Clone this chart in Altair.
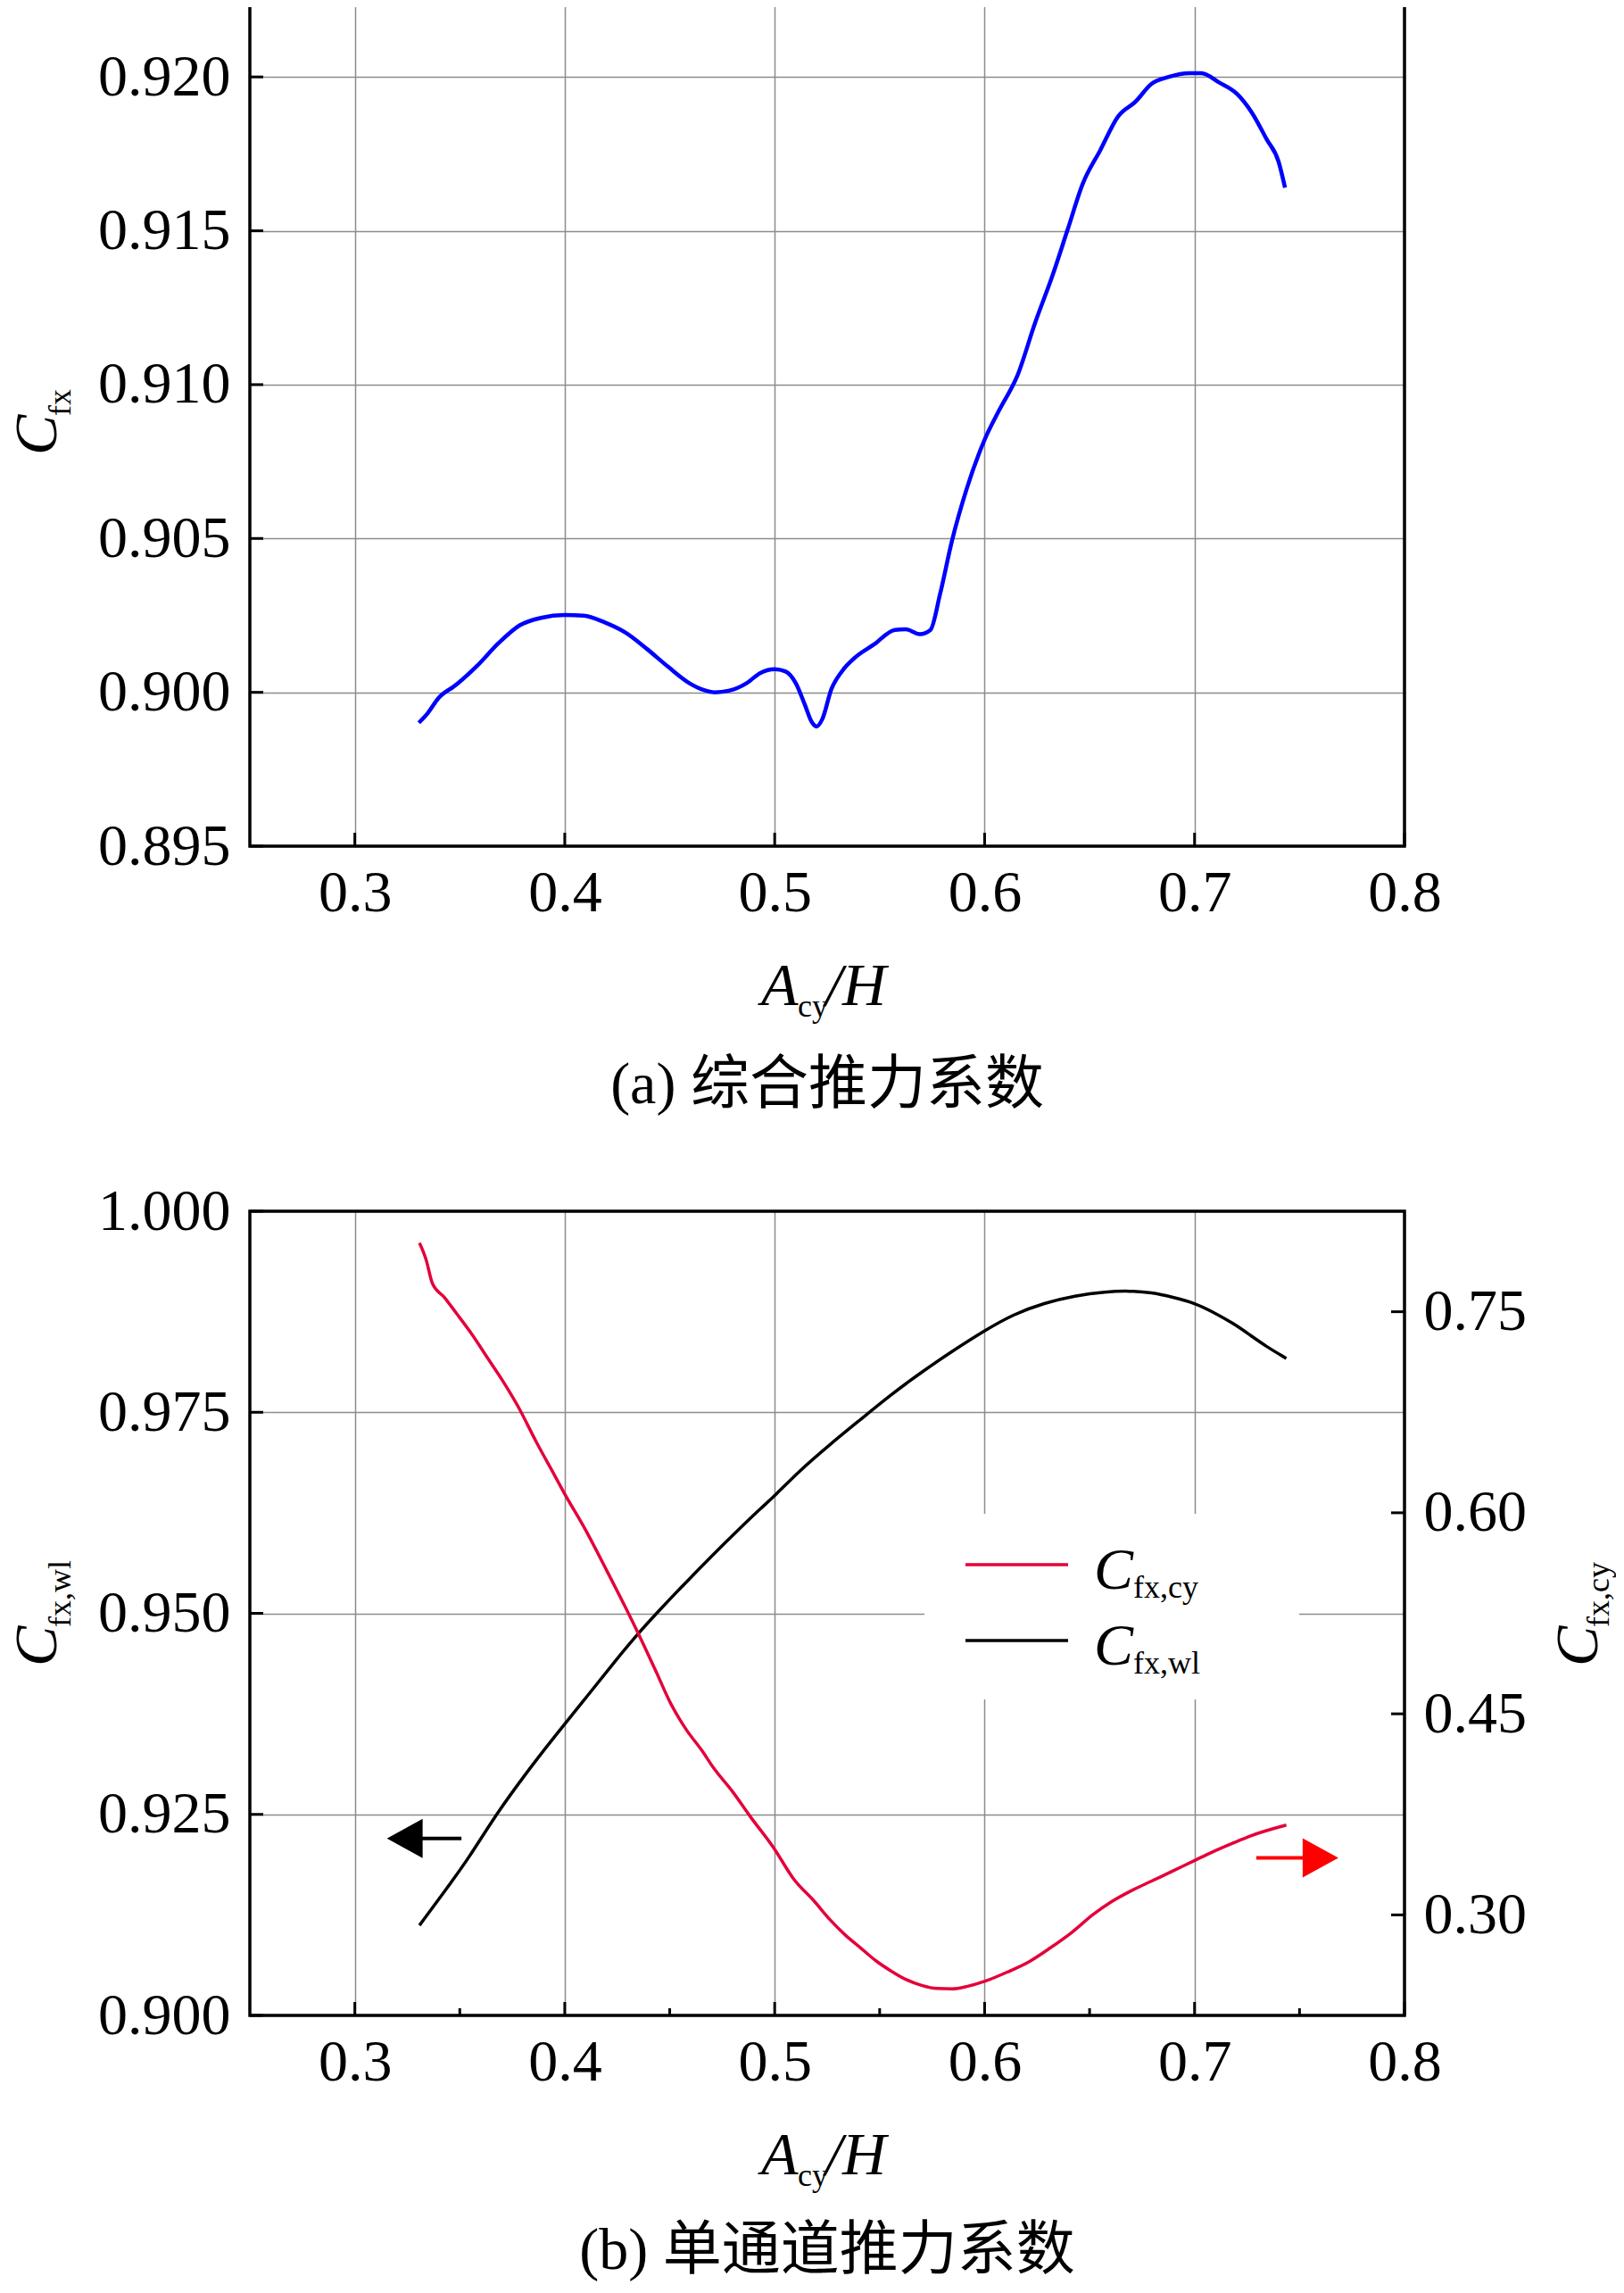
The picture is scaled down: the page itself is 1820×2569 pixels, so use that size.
import altair as alt
import pandas as pd

# ---------------- data ----------------
blue_x = [0.3305, 0.3347, 0.3398, 0.3482, 0.3584, 0.3685, 0.3786, 0.3887, 0.4000, 0.4089,
          0.4191, 0.4292, 0.4393, 0.4494, 0.4595, 0.4663, 0.4713, 0.4781, 0.4865, 0.4932,
          0.5000, 0.5050, 0.5101, 0.5143, 0.5177, 0.5199, 0.5227, 0.5270, 0.5320, 0.5388,
          0.5472, 0.5573, 0.5624, 0.5691, 0.5742, 0.5788, 0.5844, 0.5915, 0.6000, 0.6071,
          0.6156, 0.6240, 0.6325, 0.6396, 0.6467, 0.6551, 0.6636, 0.6721, 0.6792, 0.6877,
          0.6976, 0.7032, 0.7117, 0.7202, 0.7273, 0.7343, 0.7400, 0.7431]
blue_y = [0.89901, 0.89932, 0.89981, 0.90024, 0.90087, 0.90160, 0.90218, 0.90242, 0.90251, 0.90249,
          0.90227, 0.90193, 0.90140, 0.90082, 0.90029, 0.90007, 0.90000, 0.90005, 0.90029, 0.90063,
          0.90075, 0.90068, 0.90029, 0.89961, 0.89903, 0.89889, 0.89913, 0.90010, 0.90068, 0.90116,
          0.90155, 0.90203, 0.90205, 0.90189, 0.90203, 0.90320, 0.90491, 0.90662, 0.90821, 0.90919,
          0.91029, 0.91200, 0.91358, 0.91505, 0.91652, 0.91762, 0.91872, 0.91921, 0.91976, 0.92000,
          0.92012, 0.92012, 0.91982, 0.91945, 0.91884, 0.91798, 0.91725, 0.91640]

wl_x = [0.3308, 0.3427, 0.3544, 0.3660, 0.3806, 0.3952, 0.4098, 0.4244, 0.4353,
        0.4448, 0.4564, 0.4710, 0.4827, 0.4944, 0.5000, 0.5117, 0.5263, 0.5409, 0.5554,
        0.5700, 0.5846, 0.6002, 0.6138, 0.6284, 0.6430, 0.6576, 0.6692, 0.6795, 0.6897,
        0.6999, 0.7086, 0.7188, 0.7259, 0.7340, 0.7437]
wl_y = [0.9112, 0.9154, 0.9196, 0.9245, 0.9298, 0.9347, 0.9394, 0.9442, 0.9476,
        0.9503, 0.9535, 0.9574, 0.9604, 0.9633, 0.9646, 0.9677, 0.9710, 0.9741, 0.9772,
        0.9800, 0.9826, 0.9852, 0.9872, 0.9886, 0.9895, 0.9900, 0.9901, 0.9899, 0.9893,
        0.9886, 0.9875, 0.9860, 0.9847, 0.9832, 0.9817]

cy_x = [0.3308, 0.3340, 0.3369, 0.3427, 0.3486, 0.3558, 0.3631, 0.3704, 0.3777, 0.3865,
        0.3952, 0.4000, 0.4098, 0.4200, 0.4287, 0.4353, 0.4433, 0.4506, 0.4579, 0.4652,
        0.4710, 0.4798, 0.4885, 0.4995, 0.5089, 0.5190, 0.5263, 0.5336, 0.5409, 0.5482,
        0.5554, 0.5627, 0.5700, 0.5773, 0.5846, 0.5919, 0.6002, 0.6109, 0.6211, 0.6313,
        0.6415, 0.6517, 0.6605, 0.6692, 0.6795, 0.6897, 0.6999, 0.7086, 0.7188, 0.7259,
        0.7437]
cy_y = [0.8013, 0.7886, 0.7714, 0.7607, 0.7484, 0.7331, 0.7158, 0.6986, 0.6795, 0.6527,
        0.6278, 0.6140, 0.5875, 0.5569, 0.5301, 0.5090, 0.4822, 0.4573, 0.4382, 0.4229,
        0.4094, 0.3922, 0.3731, 0.3501, 0.3271, 0.3099, 0.2965, 0.2850, 0.2754, 0.2658,
        0.2582, 0.2517, 0.2474, 0.2451, 0.2448, 0.2467, 0.2505, 0.2574, 0.2650, 0.2754,
        0.2869, 0.3003, 0.3099, 0.3175, 0.3252, 0.3328, 0.3405, 0.3470, 0.3539, 0.3585,
        0.3670]

x_ticks = [0.3, 0.4, 0.5, 0.6, 0.7, 0.8]
x_minor = [0.35, 0.45, 0.55, 0.65, 0.75]
ya_ticks = [0.895, 0.900, 0.905, 0.910, 0.915, 0.920]
yb_left_ticks = [0.900, 0.925, 0.950, 0.975, 1.000]
yb_right_ticks = [0.30, 0.45, 0.60, 0.75]

# arrows (data coordinates): shaft start/end, head centre, level
arrow_wl = {"x": [0.3317], "x2": [0.3508], "xh": [0.3238], "y": [0.9220]}
arrow_cy = {"x": [0.7294], "x2": [0.7530], "xh": [0.7600], "y": [0.3426]}

caption_a = "(a) 综合推力系数"
caption_b = "(b) 单通道推力系数"

# ---------------- styling ----------------
FONT = "Liberation Serif"
CJK = "Liberation Serif, Noto Sans CJK SC"
W = 1294
HA = 948
HB = 901
GRID = "#8c8c8c"
BLUE = "#0000FF"
RED = "#E4003A"
TICK = 66
MAIN = 68
SUB = 36
HEAD = 1600
YT_X = -217

xs = alt.Scale(domain=[0.25, 0.8], nice=False, zero=False)
ys_a = alt.Scale(domain=[0.895, 0.9225], nice=False, zero=False)
ys_bl = alt.Scale(domain=[0.900, 1.000], nice=False, zero=False)
ys_br = alt.Scale(domain=[0.225, 0.825], nice=False, zero=False)


def x_axis():
    return alt.Axis(values=x_ticks, format=".1f", title=None, domain=False, ticks=False,
                    tickSize=0, grid=True, gridColor=GRID, gridWidth=1.5,
                    labelFont=FONT, labelFontSize=TICK, labelColor="black",
                    labelPadding=20, labelFlush=False, labelOverlap=False)


def y_axis(vals, fmt, orient="left", grid=True):
    return alt.Axis(values=vals, format=fmt, title=None, domain=False, ticks=False,
                    tickSize=0, grid=grid, gridColor=GRID, gridWidth=1.5, orient=orient,
                    labelFont=FONT, labelFontSize=TICK, labelColor="black",
                    labelPadding=22 if orient == "left" else 21,
                    labelFlush=False, labelOverlap=False)


one = pd.DataFrame({"k": [0]})


def txt(s, x, y, size, italic=False, angle=None, align="left", font=FONT):
    kw = dict(text=s, font=font, fontSize=size, color="black", align=align,
              baseline="alphabetic")
    if italic:
        kw["fontStyle"] = "italic"
    if angle is not None:
        kw["angle"] = angle
    return alt.Chart(one).mark_text(**kw).encode(x=alt.value(x), y=alt.value(y))


def x_title(H):
    return [txt("A", 573, H + 178, MAIN, italic=True),
            txt("cy", 614, H + 191, SUB),
            txt("/H", 645, H + 178, MAIN, italic=True)]


def y_title(xb, sub, dsub=16):
    return [txt("C", xb, 510, MAIN, italic=True, angle=270),
            txt(sub, xb + dsub, 466, SUB, angle=270)]


def frame(H):
    return alt.Chart(one).mark_rect(filled=False, stroke="black", strokeWidth=3.5).encode(
        x=alt.value(0), x2=alt.value(W), y=alt.value(0), y2=alt.value(H))


def xtick_layer(vals, H, length):
    df = pd.DataFrame({"x": vals})
    return alt.Chart(df).mark_rule(color="black", strokeWidth=3).encode(
        x=alt.X("x:Q", scale=xs, axis=x_axis()),
        y=alt.value(H), y2=alt.value(H - length))


def ytick_layer(vals, scale, axis, x0, x1):
    df = pd.DataFrame({"y": vals})
    return alt.Chart(df).mark_rule(color="black", strokeWidth=3).encode(
        y=alt.Y("y:Q", scale=scale, axis=axis),
        x=alt.value(x0), x2=alt.value(x1))


# ---------------- panel (a) ----------------
df_a = pd.DataFrame({"x": blue_x, "y": blue_y})
ax_a = y_axis(ya_ticks, ".3f")
line_a = alt.Chart(df_a).mark_line(color=BLUE, strokeWidth=4.5, interpolate="monotone").encode(
    x=alt.X("x:Q", scale=xs, axis=x_axis()),
    y=alt.Y("y:Q", scale=ys_a, axis=ax_a))

panel_a = alt.layer(
    line_a,
    xtick_layer(x_ticks, HA, 15),
    ytick_layer(ya_ticks, ys_a, ax_a, 0, 15),
    frame(HA),
    *x_title(HA),
    *y_title(YT_X, "fx"),
    txt(caption_a, W / 2, HA + 288, 66, align="center", font=CJK),
).properties(width=W, height=HA)

# ---------------- panel (b) ----------------
df_wl = pd.DataFrame({"x": wl_x, "y": wl_y})
df_cy = pd.DataFrame({"x": cy_x, "y": cy_y})
ax_bl = y_axis(yb_left_ticks, ".3f")
ax_br = y_axis(yb_right_ticks, ".2f", orient="right", grid=False)

line_wl = alt.Chart(df_wl).mark_line(color="black", strokeWidth=3.5, interpolate="basis").encode(
    x=alt.X("x:Q", scale=xs, axis=x_axis()),
    y=alt.Y("y:Q", scale=ys_bl, axis=ax_bl))
line_cy = alt.Chart(df_cy).mark_line(color=RED, strokeWidth=3.5, interpolate="monotone").encode(
    x=alt.X("x:Q", scale=xs, axis=x_axis()),
    y=alt.Y("y:Q", scale=ys_br, axis=ax_br))

df_aw = pd.DataFrame(arrow_wl)
df_ac = pd.DataFrame(arrow_cy)
shaft_wl = alt.Chart(df_aw).mark_rule(color="black", strokeWidth=4).encode(
    x=alt.X("x:Q", scale=xs, axis=x_axis()), x2="x2:Q",
    y=alt.Y("y:Q", scale=ys_bl, axis=ax_bl))
head_wl = alt.Chart(df_aw).mark_point(shape="M -1 0 L 1 -1.1 L 1 1.1 Z", filled=True,
                                      size=HEAD, color="black", opacity=1, strokeWidth=0).encode(
    x=alt.X("xh:Q", scale=xs, axis=x_axis()),
    y=alt.Y("y:Q", scale=ys_bl, axis=ax_bl))
shaft_cy = alt.Chart(df_ac).mark_rule(color="#FF0000", strokeWidth=4).encode(
    x=alt.X("x:Q", scale=xs, axis=x_axis()), x2="x2:Q",
    y=alt.Y("y:Q", scale=ys_br, axis=ax_br))
head_cy = alt.Chart(df_ac).mark_point(shape="M 1 0 L -1 -1.1 L -1 1.1 Z", filled=True,
                                      size=HEAD, color="#FF0000", opacity=1, strokeWidth=0).encode(
    x=alt.X("xh:Q", scale=xs, axis=x_axis()),
    y=alt.Y("y:Q", scale=ys_br, axis=ax_br))

legend_bg = alt.Chart(one).mark_rect(fill="white").encode(
    x=alt.value(756), x2=alt.value(1176), y=alt.value(339), y2=alt.value(547))
leg_red = alt.Chart(one).mark_rule(color=RED, strokeWidth=3.5).encode(
    x=alt.value(802), x2=alt.value(917), y=alt.value(396))
leg_blk = alt.Chart(one).mark_rule(color="black", strokeWidth=3.5).encode(
    x=alt.value(802), x2=alt.value(917), y=alt.value(481))

left_group = alt.layer(
    legend_bg,
    line_wl,
    shaft_wl, head_wl,
    xtick_layer(x_ticks, HB, 15),
    xtick_layer(x_minor, HB, 8),
    ytick_layer(yb_left_ticks, ys_bl, ax_bl, 0, 15),
    leg_red, leg_blk,
    txt("C", 946, 423, 66, italic=True), txt("fx,cy", 990, 433, SUB),
    txt("C", 946, 508, 66, italic=True), txt("fx,wl", 990, 518, SUB),
    frame(HB),
    *x_title(HB),
    *y_title(YT_X, "fx,wl"),
    *y_title(1510, "fx,cy", dsub=13),
    txt(caption_b, W / 2, HB + 284, 66, align="center", font=CJK),
)
right_group = alt.layer(
    line_cy,
    shaft_cy, head_cy,
    ytick_layer(yb_right_ticks, ys_br, ax_br, W - 15, W),
)
panel_b = alt.layer(left_group, right_group).resolve_scale(y="independent").properties(
    width=W, height=HB)

chart = alt.vconcat(panel_a, panel_b, spacing=73).properties(
    padding={"left": 0, "top": -11, "right": 0, "bottom": 0}
).configure_view(stroke=None).configure(background="white")

chart.save("out.html", embed_options={"renderer": "svg", "actions": False})
